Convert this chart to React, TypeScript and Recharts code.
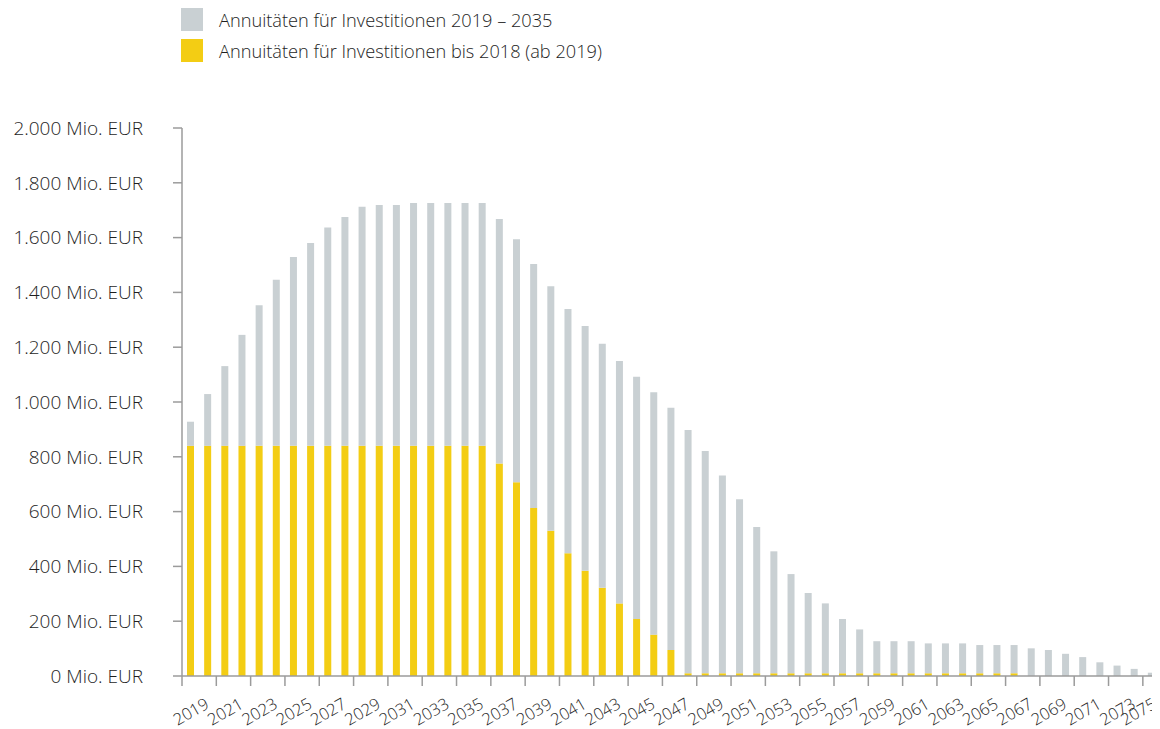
import { BarChart, Bar, XAxis, YAxis } from "recharts";

// Jahre (Kategorien)
const years = [
  "2019", "2020", "2021", "2022", "2023", "2024", "2025", "2026", "2027", "2028",
  "2029", "2030", "2031", "2032", "2033", "2034", "2035", "2036", "2037", "2038",
  "2039", "2040", "2041", "2042", "2043", "2044", "2045", "2046", "2047", "2048",
  "2049", "2050", "2051", "2052", "2053", "2054", "2055", "2056", "2057", "2058",
  "2059", "2060", "2061", "2062", "2063", "2064", "2065", "2066", "2067", "2068",
  "2069", "2070", "2071", "2072", "2073", "2074", "2075",
];

// Annuitäten für Investitionen bis 2018 (ab 2019), Mio. EUR
const bis2018 = [
  840, 840, 840, 840, 840, 840, 840, 840, 840, 840,
  840, 840, 840, 840, 840, 840, 840, 840, 776, 707,
  613, 530, 448, 384, 322, 265, 208, 151, 95, 10,
  10, 10, 10, 10, 10, 10, 10, 10, 10, 10,
  10, 10, 10, 10, 10, 10, 10, 10, 10, 0,
  0, 0, 0, 0, 0, 0, 0,
];

// Annuitäten für Investitionen 2019 – 2035, Mio. EUR
const inv2019bis2035 = [
  88, 189, 291, 405, 513, 606, 689, 740, 797, 835,
  873, 879, 879, 886, 886, 886, 886, 886, 892, 887,
  891, 892, 891, 893, 891, 885, 884, 885, 884, 888,
  811, 722, 635, 534, 445, 362, 293, 255, 198, 160,
  117, 117, 117, 109, 109, 109, 103, 103, 103, 101,
  95, 81, 69, 50, 38, 26, 12,
];

const yTicks = [0, 200, 400, 600, 800, 1000, 1200, 1400, 1600, 1800, 2000];

const legendItems = [
  { label: "Annuitäten für Investitionen 2019 – 2035", color: "#c9d0d3" },
  { label: "Annuitäten für Investitionen bis 2018 (ab 2019)", color: "#f3cd14" },
];

const data = years.map((year, i) => ({
  year,
  alt: bis2018[i],
  neu: inv2019bis2035[i],
}));

const W = 1152;
const H = 721;
const Y_AXIS_W = 174;
const BAND = (W - Y_AXIS_W) / years.length;
const FONT = '"Open Sans", sans-serif';
const TEXT = "#1e1e1e";
const AXIS = "#9b9b9b";

const fmt = (v: number) => `${String(v).replace(/\B(?=(\d{3})+(?!\d))/g, ".")} Mio. EUR`;

function YearTick({ x, y, payload }: any) {
  // keep the last label inside the picture, as the original does
  const cx = Math.min(x, W - 22);
  const ty = y + 35;
  return (
    <g>
      <line x1={x - BAND / 2} x2={x - BAND / 2} y1={y} y2={y + 10} stroke={AXIS} strokeWidth={1.5} />
      <text
        x={cx} y={ty} transform={`rotate(-30 ${cx} ${ty})`}
        textAnchor="middle" dominantBaseline="central"
        fill={TEXT} fontSize={16.5} fontFamily={FONT} fontWeight={300}
      >
        {payload.value}
      </text>
    </g>
  );
}

export default function App() {
  return (
    <div style={{ position: "relative", width: W, height: H, fontFamily: FONT }}>
      <div style={{ position: "absolute", left: 173, top: 0 }}>
        {legendItems.map((it) => (
          <div key={it.label} style={{ display: "flex", alignItems: "center", height: 23, marginBottom: 8 }}>
            <span style={{ width: 22, height: 23, background: it.color, display: "inline-block" }} />
            <span style={{ marginLeft: 16, fontSize: 18.2, fontWeight: 300, color: TEXT, whiteSpace: "nowrap" }}>
              {it.label}
            </span>
          </div>
        ))}
      </div>
      <BarChart
        width={W} height={H} data={data}
        margin={{ top: 120, right: 0, left: 0, bottom: 0 }}
        barSize={7}
      >
        <XAxis
          dataKey="year" interval={1} height={53}
          tickLine={false} tickSize={0} tickMargin={0}
          axisLine={{ stroke: AXIS, strokeWidth: 1.5 }}
          tick={<YearTick />}
        />
        <YAxis
          domain={[0, 2000]} ticks={yTicks} width={Y_AXIS_W}
          tickFormatter={fmt} tickSize={9} tickMargin={30}
          axisLine={{ stroke: AXIS, strokeWidth: 1.5 }}
          tickLine={{ stroke: AXIS, strokeWidth: 1.5 }}
          tick={{ fill: TEXT, fontSize: 19, fontFamily: FONT, fontWeight: 300 }}
        />
        <Bar dataKey="alt" stackId="a" fill="#f3cd14" isAnimationActive={false} />
        <Bar dataKey="neu" stackId="a" fill="#c9d0d3" isAnimationActive={false} />
      </BarChart>
    </div>
  );
}
